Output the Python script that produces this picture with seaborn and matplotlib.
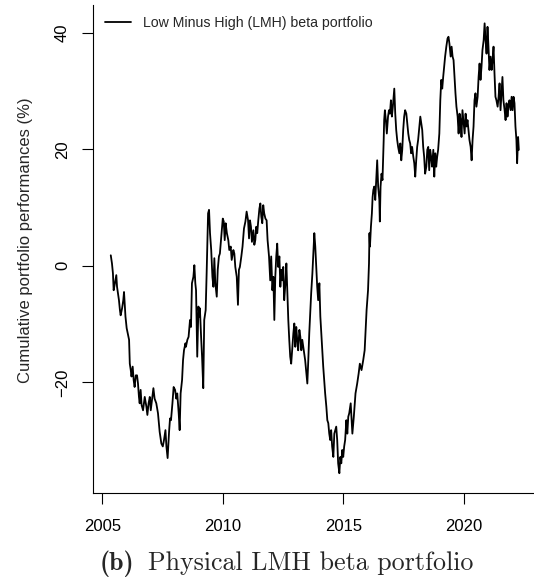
import numpy as np
import pandas as pd
import seaborn as sns
import matplotlib.pyplot as plt

# Cumulative LMH beta portfolio performance (%), by period
years_05_08 = [2005.35, 2005.40, 2005.44, 2005.47, 2005.51, 2005.58, 2005.61, 2005.65, 2005.69, 2005.73,
               2005.76, 2005.82, 2005.87, 2005.90, 2005.93, 2005.96, 2006.01, 2006.07, 2006.11, 2006.14,
               2006.18, 2006.21, 2006.26, 2006.30, 2006.34, 2006.39, 2006.44, 2006.48, 2006.52, 2006.55,
               2006.59, 2006.63, 2006.69, 2006.76, 2006.83, 2006.87, 2006.92, 2006.97, 2007.01, 2007.06,
               2007.12, 2007.17, 2007.24, 2007.31, 2007.38, 2007.45, 2007.51, 2007.56, 2007.62, 2007.66,
               2007.71, 2007.77, 2007.81, 2007.85, 2007.91, 2007.96, 2008.02, 2008.07, 2008.11, 2008.17,
               2008.21, 2008.25, 2008.31, 2008.35, 2008.39, 2008.45]
perf_05_08 = [1.8, 0.4, -1.3, -4.2, -3.3, -1.6, -3.6, -4.7, -5.9, -7.6,
              -8.5, -7.3, -5.9, -4.5, -6.7, -8.7, -10.7, -11.9, -12.7, -16.8,
              -17.9, -19.0, -17.3, -19.6, -20.8, -18.8, -18.8, -20.2, -22.5, -23.6,
              -21.3, -23.9, -24.8, -22.5, -24.2, -25.6, -23.6, -22.5, -24.8, -23.0,
              -21.0, -22.8, -23.6, -25.3, -28.5, -30.5, -31.0, -29.9, -28.2, -31.0,
              -33.0, -28.5, -26.2, -26.5, -23.6, -20.8, -21.3, -22.8, -21.9, -25.3,
              -28.2, -21.9, -19.6, -16.2, -14.5, -13.3]

years_08_11 = [2008.47, 2008.53, 2008.58, 2008.64, 2008.68, 2008.72, 2008.78, 2008.82, 2008.86, 2008.89,
               2008.94, 2008.99, 2009.03, 2009.05, 2009.10, 2009.14, 2009.19, 2009.23, 2009.29, 2009.33,
               2009.39, 2009.43, 2009.47, 2009.52, 2009.57, 2009.61, 2009.65, 2009.69, 2009.75, 2009.79,
               2009.84, 2009.88, 2009.94, 2010.00, 2010.04, 2010.08, 2010.12, 2010.17, 2010.23, 2010.27,
               2010.33, 2010.37, 2010.44, 2010.48, 2010.52, 2010.58, 2010.63, 2010.67, 2010.71, 2010.77,
               2010.82, 2010.88, 2010.94, 2010.99, 2011.05, 2011.09, 2011.13, 2011.17, 2011.21, 2011.27,
               2011.31, 2011.35, 2011.39, 2011.43, 2011.47, 2011.52, 2011.56, 2011.60, 2011.64, 2011.68,
               2011.72, 2011.77, 2011.82, 2011.86, 2011.92]
perf_08_11 = [-13.9, -12.7, -12.2, -9.3, -10.5, -3.0, -1.9, 0.1, -3.0, -4.2,
              -15.6, -7.0, -8.7, -7.3, -12.2, -15.6, -21.0, -9.3, -7.6, -1.3,
              9.0, 9.6, 5.6, 2.7, -1.9, -3.6, 1.3, -3.0, -5.3, -0.7,
              1.6, 2.1, 5.0, 8.1, 7.6, 4.4, 7.3, 5.6, 4.4, 2.7,
              3.3, 1.0, 2.7, 2.1, -0.2, -1.9, -6.7, -0.7, -0.2, 1.6,
              3.3, 6.4, 7.6, 9.3, 7.8, 4.7, 7.8, 6.7, 4.1, 6.1,
              3.6, 4.4, 6.7, 5.6, 7.6, 9.8, 10.7, 8.4, 7.3, 10.4,
              9.0, 8.1, 7.8, 4.4, 1.6]

years_12_16 = [2011.97, 2012.01, 2012.06, 2012.10, 2012.14, 2012.18, 2012.22, 2012.26, 2012.30, 2012.35,
               2012.39, 2012.43, 2012.47, 2012.51, 2012.55, 2012.60, 2012.64, 2012.68, 2012.72, 2012.76,
               2012.80, 2012.84, 2012.89, 2012.93, 2012.97, 2013.01, 2013.05, 2013.09, 2013.13, 2013.18,
               2013.22, 2013.26, 2013.30, 2013.34, 2013.38, 2013.42, 2013.47, 2013.51, 2013.55, 2013.59,
               2013.63, 2013.67, 2013.72, 2013.76, 2013.80, 2013.84, 2013.88, 2013.92, 2013.96, 2014.01,
               2014.05, 2014.09, 2014.13, 2014.17, 2014.21, 2014.25, 2014.30, 2014.34, 2014.38, 2014.42,
               2014.46, 2014.50, 2014.54, 2014.59, 2014.63, 2014.67, 2014.71, 2014.75, 2014.79, 2014.84,
               2014.88, 2014.92, 2014.96, 2015.00, 2015.04, 2015.08, 2015.13, 2015.17, 2015.21, 2015.25,
               2015.31, 2015.38, 2015.44, 2015.51, 2015.58, 2015.64, 2015.69, 2015.76, 2015.83, 2015.89,
               2015.93, 2015.97, 2016.03, 2016.07, 2016.09]
perf_12_16 = [-2.5, 1.6, -4.2, -1.9, -9.3, -1.9, 1.6, 3.8, -0.2, 1.6,
              -3.6, -0.7, -2.5, -0.2, -5.9, -3.0, 0.4, -4.7, -9.3, -12.7,
              -15.6, -16.8, -13.9, -11.6, -9.9, -13.9, -10.5, -12.7, -14.5, -11.0,
              -12.2, -14.5, -12.7, -13.9, -15.0, -16.2, -18.5, -20.2, -16.2, -11.6,
              -8.2, -4.7, -1.3, 2.1, 5.6, 3.3, -0.2, -3.6, -5.9, -3.0,
              -8.7, -11.6, -14.5, -17.3, -19.6, -21.9, -24.2, -26.5, -27.0, -28.8,
              -29.9, -28.2, -31.0, -32.8, -28.8, -28.2, -27.6, -29.9, -33.9, -35.6,
              -32.8, -33.9, -31.6, -32.8, -31.0, -29.9, -26.5, -28.8, -25.9, -25.3,
              -23.6, -28.8, -25.9, -21.9, -20.2, -18.5, -16.8, -17.9, -16.2, -14.5,
              -11.0, -7.6, -4.2, 0.4, 5.6]

years_16_22 = [2016.11, 2016.15, 2016.19, 2016.22, 2016.25, 2016.29, 2016.33, 2016.37, 2016.41, 2016.45,
               2016.50, 2016.52, 2016.55, 2016.59, 2016.63, 2016.68, 2016.70, 2016.73, 2016.77, 2016.81,
               2016.86, 2016.90, 2016.94, 2016.98, 2017.02, 2017.06, 2017.12, 2017.16, 2017.20, 2017.24,
               2017.28, 2017.33, 2017.37, 2017.41, 2017.45, 2017.49, 2017.53, 2017.57, 2017.62, 2017.66,
               2017.70, 2017.74, 2017.78, 2017.82, 2017.86, 2017.91, 2017.95, 2017.99, 2018.03, 2018.07,
               2018.11, 2018.16, 2018.20, 2018.24, 2018.28, 2018.32, 2018.36, 2018.40, 2018.45, 2018.49,
               2018.53, 2018.57, 2018.61, 2018.65, 2018.69, 2018.74, 2018.78, 2018.82, 2018.86, 2018.90,
               2018.94, 2018.99, 2019.03, 2019.07, 2019.11, 2019.15, 2019.19, 2019.23, 2019.28, 2019.33,
               2019.37, 2019.41, 2019.46, 2019.50, 2019.54, 2019.58, 2019.62, 2019.66, 2019.70, 2019.75,
               2019.79, 2019.83, 2019.87, 2019.91, 2019.95, 2020.00, 2020.04, 2020.08, 2020.12, 2020.16,
               2020.20, 2020.24, 2020.29, 2020.33, 2020.37, 2020.41, 2020.45, 2020.49, 2020.53, 2020.58,
               2020.62, 2020.66, 2020.70, 2020.74, 2020.78, 2020.83, 2020.87, 2020.91, 2020.95, 2020.99,
               2021.03, 2021.07, 2021.12, 2021.16, 2021.20, 2021.24, 2021.28, 2021.32, 2021.36, 2021.41,
               2021.45, 2021.49, 2021.53, 2021.57, 2021.61, 2021.65, 2021.70, 2021.74, 2021.78, 2021.82,
               2021.86, 2021.90, 2021.95, 2021.99, 2022.03, 2022.07, 2022.11, 2022.15, 2022.19, 2022.22,
               2022.26, 2022.29]
perf_16_22 = [3.3, 6.7, 9.0, 11.8, 13.0, 13.6, 11.3, 14.7, 18.1, 13.6,
              11.3, 7.6, 13.6, 15.8, 14.7, 21.6, 25.0, 26.7, 25.0, 22.7,
              25.6, 26.7, 26.1, 28.4, 25.6, 27.3, 30.4, 26.1, 23.3, 21.6,
              20.4, 19.3, 21.0, 18.1, 19.9, 23.3, 25.6, 26.7, 26.1, 24.4,
              22.7, 21.6, 21.0, 19.3, 20.4, 18.7, 17.6, 15.3, 18.1, 20.4,
              21.6, 23.9, 25.6, 24.4, 23.3, 20.4, 18.7, 15.8, 17.0, 19.9,
              20.4, 16.4, 19.9, 18.7, 17.0, 19.9, 15.3, 19.3, 17.0, 18.7,
              19.9, 22.7, 28.4, 31.9, 30.4, 32.4, 34.1, 35.9, 37.6, 39.0,
              39.3, 38.1, 35.9, 37.6, 35.9, 35.3, 32.4, 29.6, 27.3, 25.6,
              22.7, 26.1, 25.0, 22.1, 26.7, 24.4, 22.7, 26.1, 23.9, 25.0,
              23.3, 21.6, 20.4, 18.1, 21.6, 23.9, 28.4, 29.6, 27.3, 29.0,
              32.4, 34.7, 31.9, 34.1, 37.0, 38.7, 41.6, 38.7, 36.4, 41.0,
              37.6, 33.6, 35.9, 33.6, 35.3, 37.6, 33.0, 29.0, 28.4, 27.3,
              29.0, 31.3, 26.7, 29.6, 32.4, 28.4, 26.7, 25.0, 27.9, 25.6,
              27.3, 28.4, 26.7, 29.0, 26.7, 29.0, 27.9, 23.9, 21.6, 17.6,
              22.1, 19.9]

x_ticks = [2005, 2010, 2015, 2020]
y_ticks = [-20, 0, 20, 40]
y_tick_labels = ["\u221220", "0", "20", "40"]

df = pd.DataFrame({
    "year": years_05_08 + years_08_11 + years_12_16 + years_16_22,
    "perf": perf_05_08 + perf_08_11 + perf_12_16 + perf_16_22,
})

sns.set_style("ticks")
plt.rcParams['font.family'] = ['Liberation Sans', 'DejaVu Sans']

W, H = 534, 580
fig = plt.figure(figsize=(W / 100, H / 100), dpi=100)
# plot region in pixels: left 92.7, bottom 493, top 5, runs off the right edge
ax = fig.add_axes([92.7 / W, 1 - 493 / H, (W - 92.7) / W, 488 / H])

sns.lineplot(data=df, x="year", y="perf", color="black", linewidth=1.3,
             estimator=None, sort=False, ax=ax,
             label="Low Minus High (LMH) beta portfolio")

ax.set_xlim(2004.60, 2022.92)
ax.set_ylim(-38.99, 44.75)
ax.set_xticks(x_ticks)
ax.set_yticks(y_ticks)
ax.set_yticklabels(y_tick_labels)
ax.tick_params(axis='both', direction='out', length=7.9, width=0.8,
               labelsize=12, pad=9.5, colors='black')
ax.tick_params(axis='x', pad=11)
ax.tick_params(axis='y', labelrotation=90, pad=8.5)
for lbl in ax.get_yticklabels():
    lbl.set_va('center')

for side in ['top', 'right']:
    ax.spines[side].set_visible(False)
for side in ['left', 'bottom']:
    ax.spines[side].set_color('black')
    ax.spines[side].set_linewidth(0.8)

ax.set_xlabel("")
ax.set_ylabel("Cumulative portfolio performances (%)", fontsize=12)
ax.yaxis.set_label_coords((33 - 92.7) / 441.3, (493 - 240) / 488)

ax.legend(loc='center left', bbox_to_anchor=((105 - 92.7) / 441.3, 1 - (22.7 - 5) / 488),
          frameon=False, fontsize=10.2, handlelength=1.8, handletextpad=0.9,
          borderaxespad=0, borderpad=0)

# caption under the panel, LaTeX-like
fig.text(100 / W, 1 - 570 / H, "(b)", family='cmb10', fontsize=18.7, va='baseline', ha='left')
fig.text(148.3 / W, 1 - 570 / H, "Physical LMH beta portfolio", family='cmr10',
         fontsize=18.7, va='baseline', ha='left')

fig.savefig("out.png", dpi=100)
